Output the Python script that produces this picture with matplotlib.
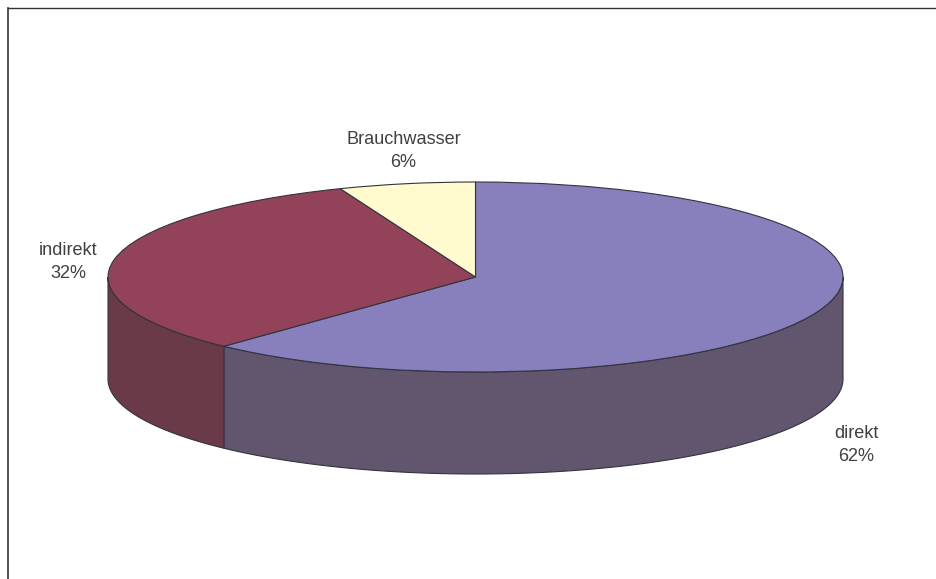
import numpy as np
import matplotlib.pyplot as plt

plt.rcParams['font.family'] = ['Liberation Sans', 'DejaVu Sans']

# shares of the water use
labels = ["direkt", "indirekt", "Brauchwasser"]
values = [62, 32, 6]
top_colors = ["#8880BC", "#924359", "#FFFBCF"]
side_colors = ["#62566F", "#6B3A48", "#BDB998"]
edge = "#33333F"

# pixel geometry of the tilted disc
W, H = 936, 579
cx, cy, rx, ry = 475.5, 277, 367.5, 95
depth = 102 / ry

fig = plt.figure(figsize=(W / 100, H / 100), dpi=100)
ax = fig.add_axes([8 / W, 0, (W - 8) / W, (H - 8) / H])

# walls: only the front half of the disc is visible (angle 0 to -180)
start = 90.0
for val, col in zip(values, side_colors):
    end = start - val * 3.6
    lo, hi = max(end, -180), min(start, 0)
    if hi > lo:
        t = np.radians(np.linspace(hi, lo, 200))
        x = np.cos(t)
        y = np.sin(t)
        xs = np.r_[x, x[::-1]]
        ys = np.r_[y, y[::-1] - depth]
        ax.fill(xs, ys, facecolor=col, edgecolor=edge, linewidth=0.8, zorder=1)
    start = end

wedges, _ = ax.pie(values, startangle=90, counterclock=False, colors=top_colors,
                   wedgeprops={"edgecolor": edge, "linewidth": 0.8}, frame=True)
for w in wedges:
    w.set_zorder(2)

ax.set_aspect("auto")
ax.set_xlim((8 - cx) / rx, (W - cx) / rx)
ax.set_ylim((cy - H) / ry, (cy - 8) / ry)
ax.set_xticks([])
ax.set_yticks([])
for side in ["right", "bottom"]:
    ax.spines[side].set_visible(False)
ax.spines["top"].set_color("#333333")
ax.spines["top"].set_linewidth(1.0)
ax.spines["left"].set_color("#333333")
ax.spines["left"].set_linewidth(1.2)

# label centres in pixels
label_px = [(856.5, 445), (68.5, 262), (403.5, 151)]
for lab, val, (px, py) in zip(labels, values, label_px):
    ax.text((px - cx) / rx, (cy - py) / ry, f"{lab}\n{val}%", ha="center", va="center",
            fontsize=13.1, color="#404040", linespacing=1.53, zorder=3)

fig.savefig("out.png", dpi=100)
